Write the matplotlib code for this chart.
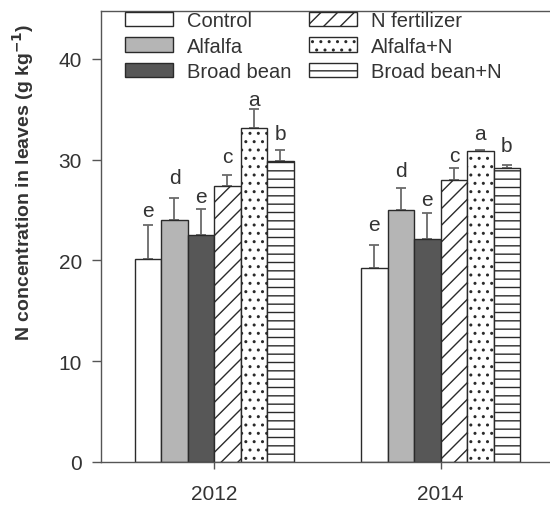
import matplotlib
matplotlib.use("Agg")
import matplotlib.pyplot as plt
import numpy as np
from matplotlib.patches import Patch

plt.rcParams['font.family'] = ['Liberation Sans', 'DejaVu Sans']
plt.rcParams['hatch.linewidth'] = 1.0

years = ["2012", "2014"]
treatments = ["Control", "Alfalfa", "Broad bean", "N fertilizer", "Alfalfa+N", "Broad bean+N"]
values_2012 = [20.15, 24.05, 22.5, 27.4, 33.1, 29.85]
values_2014 = [19.3, 25.0, 22.1, 28.0, 30.85, 29.2]
err_2012 = [3.4, 2.2, 2.65, 1.05, 1.95, 1.15]
err_2014 = [2.25, 2.15, 2.6, 1.2, 0.15, 0.3]
letters_2012 = ["e", "d", "e", "c", "a", "b"]
letters_2014 = ["e", "d", "e", "c", "a", "b"]
letter_y_2012 = [24.4, 27.7, 25.8, 29.8, 35.45, 32.05]
letter_y_2014 = [23.05, 28.35, 25.55, 29.85, 32.05, 30.9]

facecolors = ["white", "#b5b5b5", "#575757", "white", "white", "white"]
hatches = [None, None, None, "//", "..", "--"]

values = [values_2012, values_2014]
errs = [err_2012, err_2014]
letters = [letters_2012, letters_2014]
letter_y = [letter_y_2012, letter_y_2014]

fig = plt.figure(figsize=(5.5, 5.06), dpi=100)
ax = fig.add_axes([101/550, 43/506, 452.8/550, 451/506])

w = 0.117
x = np.arange(len(years))
text_c = "#333333"
for i, t in enumerate(treatments):
    pos = x + (i - 2.5) * w
    v = [values[g][i] for g in range(2)]
    e = [errs[g][i] for g in range(2)]
    ax.bar(pos, v, width=w, color=facecolors[i], edgecolor="#2a2a2a", linewidth=1.0,
           hatch=hatches[i], zorder=2)
    ax.errorbar(pos, v, yerr=[np.zeros(2), e], fmt="none", ecolor="#6a6a6a",
                elinewidth=1.3, capsize=3.4, capthick=1.3, zorder=1)
    for g in range(2):
        ax.text(pos[g], letter_y[g][i], letters[g][i], ha="center", va="baseline",
                fontsize=15, color=text_c)

ax.set_xlim(-0.5, 1.5)
ax.set_ylim(0, 44.76)
ax.set_xticks(x)
ax.set_xticklabels(years)
ax.set_yticks([0, 10, 20, 30, 40])
ax.tick_params(axis="both", direction="out", width=1, color="#555555",
               labelsize=15, labelcolor=text_c)
ax.tick_params(axis="y", length=6.7, pad=7)
ax.tick_params(axis="x", length=5, pad=10.5)
for s in ["left", "top", "bottom"]:
    ax.spines[s].set_color("#555555")
    ax.spines[s].set_linewidth(1.0)
ax.spines["right"].set_visible(False)

fig.text(23/550, 1 - 182/506, "N concentration in leaves (g kg$^{\\mathbf{-1}}$)",
         rotation=90, ha="center", va="center", fontsize=14, fontweight="bold",
         color=text_c)

handles = [Patch(facecolor=facecolors[i], edgecolor="#2a2a2a", hatch=hatches[i],
                 linewidth=1.0, label=treatments[i]) for i in range(6)]
leg = fig.legend(handles=handles, ncol=2, loc="upper left",
                 bbox_to_anchor=(125/550, 1 - 12/506), frameon=False,
                 fontsize=14.5, handlelength=2.4, handleheight=0.72,
                 handletextpad=0.7, columnspacing=0.85, labelspacing=0.33,
                 borderpad=0, borderaxespad=0)
for t in leg.get_texts():
    t.set_color(text_c)

fig.savefig("out.png", dpi=100)
